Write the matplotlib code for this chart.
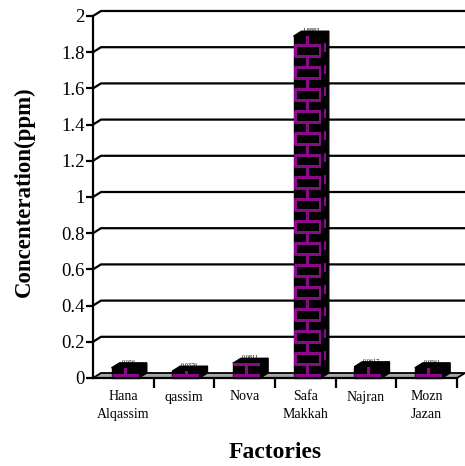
import numpy as np
import matplotlib.pyplot as plt
from matplotlib.patches import Polygon
from matplotlib.collections import LineCollection

plt.rcParams['font.family'] = ['Liberation Serif', 'DejaVu Serif']

factories = ['Hana\nAlqassim', 'qassim', 'Nova', 'Safa\nMakkah', 'Najran', 'Mozn\nJazan']
concentration = [0.056, 0.0376, 0.0811, 1.8883, 0.0617, 0.0561]
value_labels = ['0.056', '0.0376', '0.0811', '1.8883', '0.0617', '0.0561']
yticks = np.round(np.arange(0, 2.01, 0.2), 1)

W, H, DPI = 465, 466, 100
fig = plt.figure(figsize=(W / DPI, H / DPI), dpi=DPI, facecolor='white')
left, right, bottom, top = 93, 457, 378, 16
ax = fig.add_axes([left / W, 1 - bottom / H, (right - left) / W, (bottom - top) / H])
n = len(factories)
ax.set_xlim(-0.5, n - 0.5)
ax.set_ylim(0, 2)
ax.patch.set_visible(False)

# depth of the pseudo-3d look, in pixels -> data units
px_x = (right - left) / n
px_y = (bottom - top) / 2.0
dx, dy = 8 / px_x, 5 / px_y

purple = '#8a0a8a'

# back wall gridlines with the little diagonal from the axis
for t in yticks[1:]:
    ax.plot([-0.5, -0.5 + dx, n - 0.5 + dx], [t, t + dy, t + dy],
            color='black', lw=1.6, clip_on=False, zorder=1)

# floor slab
floor = Polygon([(-0.5, 0), (n - 0.5, 0), (n - 0.5 + dx, dy), (-0.5 + dx, dy)],
                closed=True, facecolor='#a6a6a6', edgecolor='black', lw=1.3,
                clip_on=False, zorder=2)
ax.add_patch(floor)

bw = 0.45
brick_h = 11 / px_y
for i, v in enumerate(concentration):
    x0 = i - bw / 2 + 0.03
    x1 = x0 + bw
    xm = (x0 + x1) / 2
    front = Polygon([(x0, 0), (x1, 0), (x1, v), (x0, v)], closed=True,
                    facecolor='black', edgecolor='black', lw=1.0, zorder=4)
    side = Polygon([(x1, 0), (x1 + dx, dy), (x1 + dx, v + dy), (x1, v)], closed=True,
                   facecolor='black', edgecolor='black', lw=1.0, zorder=4)
    topf = Polygon([(x0, v), (x1, v), (x1 + dx, v + dy), (x0 + dx, v + dy)], closed=True,
                   facecolor='black', edgecolor='black', lw=1.0, zorder=4)
    for p in (front, side, topf):
        ax.add_patch(p)
        p.set_clip_on(False)

    # brick pattern on the front face, short marks on the side face
    segs, side_segs = [], []
    rows = int(np.ceil(v / brick_h)) + 1
    for r in range(rows):
        yb = r * brick_h + brick_h * 0.3
        segs.append([(x0, yb), (x1, yb)])
        if r % 2 == 0:
            segs.append([(xm, yb), (xm, yb + brick_h)])
        else:
            segs.append([(x0 + 0.02, yb), (x0 + 0.02, yb + brick_h)])
            segs.append([(x1 - 0.02, yb), (x1 - 0.02, yb + brick_h)])
            side_segs.append([(x1 + dx * 0.5, yb + dy * 0.5 + brick_h * 0.1),
                              (x1 + dx * 0.5, yb + dy * 0.5 + brick_h * 0.9)])
    lc = LineCollection(segs, colors=purple, linewidths=2.2, zorder=5)
    ax.add_collection(lc)
    lc.set_clip_path(front)
    lc_side = LineCollection(side_segs, colors=purple, linewidths=1.5, zorder=5)
    ax.add_collection(lc_side)
    lc_side.set_clip_path(side)

    ax.text(i + 0.03 + dx / 2, v + dy * 0.6, value_labels[i], ha='center', va='bottom',
            fontsize=4.5, color='black', zorder=6)

# axes, ticks and labels
for s in ('top', 'right'):
    ax.spines[s].set_visible(False)
for s in ('left', 'bottom'):
    ax.spines[s].set_linewidth(1.6)
    ax.spines[s].set_zorder(3)
ax.set_yticks(yticks)
ax.set_yticklabels([f'{t:g}' for t in yticks], fontsize=13.5)
ax.set_xticks(range(n))
ax.set_xticklabels(factories, fontsize=10, linespacing=1.45)
ax.set_xticks(np.arange(0.5, n, 1.0), minor=True)
ax.tick_params(axis='y', direction='out', length=5, width=1.6, pad=1)
ax.tick_params(axis='x', which='major', length=0, pad=9)
ax.tick_params(axis='x', which='minor', direction='out', length=7, width=1.6)

fig.text(24 / W, 1 - 192 / H, 'Concenteration(ppm)', rotation=90, ha='center',
         va='center', fontsize=16.5, fontweight='bold')
fig.text(275 / W, 1 - 453 / H, 'Factories', ha='center', va='center',
         fontsize=17, fontweight='bold')

fig.savefig('out.png', dpi=DPI, facecolor='white')
